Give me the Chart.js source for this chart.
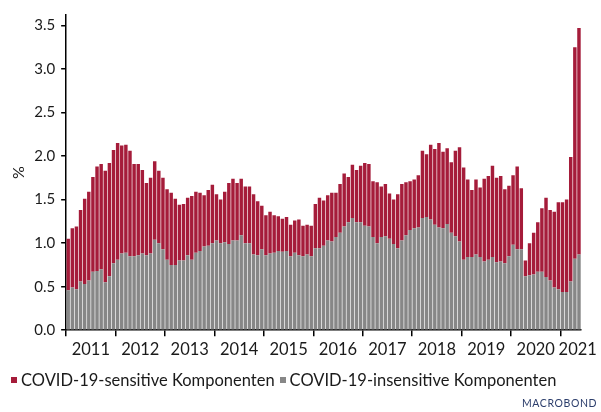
<!DOCTYPE html>
<html>
<head>
<meta charset="utf-8">
<script src="https://cdn.jsdelivr.net/npm/chart.js@4"></script>
<style>
  html, body { margin: 0; padding: 0; background: #fff; }
  #wrap { position: relative; width: 601px; height: 412px; }
  #legend { position: absolute; left: 11px; top: 370px; font: 16.5px Lato; color: #1a1a1a; display: flex; align-items: center; white-space: nowrap; }
  #legend span.box { display: inline-block; width: 6px; height: 6px; margin-right: 4px; }
  #legend span.item { display: inline-flex; align-items: center; margin-right: 5px; }
  #logo { position: absolute; left: 522px; top: 397px; font: 10.5px Lato; color: #2b3d6b; letter-spacing: 0.6px; white-space: nowrap; }
</style>
</head>
<body>
<div id="wrap">
  <canvas id="chart"></canvas>
  <div id="legend"></div>
  <div id="logo">MACROBOND</div>
</div>
<script>
const years = ["2011", "2012", "2013", "2014", "2015", "2016", "2017", "2018", "2019", "2020", "2021"];
const months = ["01", "02", "03", "04", "05", "06", "07", "08", "09", "10", "11", "12"];
// contribution in %-points, monthly Jan 2011 - May 2021
const insensitive = [
  0.46, 0.49, 0.47, 0.56, 0.53, 0.57, 0.67, 0.68, 0.70, 0.55, 0.62, 0.77,
  0.81, 0.88, 0.89, 0.85, 0.85, 0.86, 0.88, 0.86, 0.88, 1.04, 1.00, 0.93,
  0.81, 0.75, 0.75, 0.80, 0.80, 0.86, 0.81, 0.89, 0.91, 0.96, 0.97, 1.00,
  1.03, 1.00, 1.01, 0.99, 1.03, 1.03, 1.09, 1.00, 1.00, 0.87, 0.86, 0.93,
  0.86, 0.88, 0.89, 0.91, 0.90, 0.91, 0.85, 0.89, 0.86, 0.85, 0.87, 0.85,
  0.94, 0.94, 0.97, 1.03, 1.02, 1.07, 1.12, 1.19, 1.24, 1.29, 1.24, 1.24,
  1.20, 1.19, 1.07, 1.00, 1.07, 1.08, 1.05, 0.99, 0.94, 1.03, 1.09, 1.15,
  1.17, 1.18, 1.29, 1.30, 1.27, 1.21, 1.18, 1.17, 1.22, 1.12, 1.08, 1.02,
  0.81, 0.84, 0.84, 0.87, 0.84, 0.79, 0.81, 0.84, 0.78, 0.79, 0.77, 0.85,
  0.98, 0.93, 0.93, 0.62, 0.63, 0.64, 0.67, 0.67, 0.61, 0.57, 0.49, 0.47,
  0.44, 0.44, 0.56, 0.82, 0.87
];
const sensitive = [
  0.59, 0.68, 0.72, 0.82, 0.98, 1.02, 1.09, 1.20, 1.21, 1.28, 1.30, 1.30,
  1.34, 1.24, 1.24, 1.21, 1.06, 1.05, 0.96, 0.83, 0.87, 0.90, 0.83, 0.82,
  0.81, 0.83, 0.76, 0.64, 0.65, 0.66, 0.73, 0.70, 0.67, 0.59, 0.64, 0.67,
  0.53, 0.50, 0.58, 0.70, 0.71, 0.66, 0.65, 0.65, 0.65, 0.69, 0.62, 0.50,
  0.46, 0.48, 0.43, 0.40, 0.38, 0.39, 0.36, 0.37, 0.41, 0.35, 0.34, 0.35,
  0.51, 0.58, 0.52, 0.52, 0.56, 0.51, 0.56, 0.61, 0.52, 0.61, 0.60, 0.65,
  0.72, 0.72, 0.64, 0.70, 0.58, 0.60, 0.52, 0.51, 0.62, 0.65, 0.61, 0.56,
  0.56, 0.60, 0.77, 0.72, 0.86, 0.87, 0.97, 0.88, 0.87, 0.81, 0.98, 1.08,
  1.06, 0.89, 0.77, 0.86, 0.80, 0.95, 0.96, 1.05, 0.97, 0.98, 0.85, 0.81,
  0.80, 0.95, 0.70, 0.18, 0.37, 0.48, 0.57, 0.73, 0.91, 0.81, 0.87, 1.00,
  1.03, 1.06, 1.43, 2.43, 2.60
];
const yTicks = [0, 0.5, 1, 1.5, 2, 2.5, 3, 3.5];

const labels = [];
years.forEach(y => months.forEach(m => labels.push(y + "-" + m)));
labels.length = insensitive.length;

// year boundaries get a tick mark, year names sit in the middle of each year
const xTicks = [];
const xTickText = [];
years.forEach((y, i) => {
  xTicks.push({ value: i * 12, mark: true });
  xTickText.push("");
  let mid = i * 12 + 6;
  if (mid > labels.length) mid = labels.length - 0.8;
  xTicks.push({ value: mid, mark: false });
  xTickText.push(y);
});

const textColor = "#1a1a1a";
const yFont = { family: "Lato", size: 15 };
const xFont = { family: "Lato", size: 16.5 };

const chart = new Chart(document.getElementById("chart"), {
  type: "bar",
  data: {
    labels: labels,
    datasets: [
      {
        label: "COVID-19-insensitive Komponenten",
        data: insensitive,
        backgroundColor: "#878787",
        barPercentage: 0.84,
        categoryPercentage: 1.0,
      },
      {
        label: "COVID-19-sensitive Komponenten",
        data: sensitive,
        backgroundColor: "#a51c3a",
        barPercentage: 0.84,
        categoryPercentage: 1.0,
      },
    ],
  },
  options: {
    responsive: true,
    maintainAspectRatio: false,
    animation: false,
    layout: { padding: { left: 5, right: 18, top: 14, bottom: 48 } },
    scales: {
      x: { stacked: true, display: false, offset: true },
      x2: {
        type: "linear",
        position: "bottom",
        min: 0,
        max: labels.length,
        offset: false, // bar charts default every x scale to offset:true
        afterBuildTicks: s => { s.ticks = xTicks.map(t => ({ value: t.value, mark: t.mark })); },
        ticks: {
          autoSkip: false,
          maxRotation: 0,
          padding: 4,
          font: xFont,
          color: textColor,
          callback: (v, i) => xTickText[i],
        },
        grid: {
          offset: false,
          drawOnChartArea: false,
          tickLength: 6,
          lineWidth: 1.5,
          color: ctx => (ctx.tick && ctx.tick.mark ? "#000" : "rgba(0,0,0,0)"),
        },
        border: { color: "#000", width: 1.5 },
      },
      y: {
        stacked: true,
        min: 0,
        max: 3.62,
        afterBuildTicks: s => { s.ticks = yTicks.map(v => ({ value: v })); },
        ticks: { font: yFont, color: textColor, padding: 6, callback: v => v.toFixed(1) },
        grid: { drawOnChartArea: false, tickLength: 5, lineWidth: 1.5, color: "#000" },
        border: { color: "#000", width: 1.5 },
        title: { display: true, text: "%", font: { family: "Lato", size: 16 }, color: textColor, padding: { top: 4, bottom: 0 } },
      },
    },
    plugins: {
      tooltip: false,
      legend: { display: false },
    },
  },
});

// legend in the order of the reference: sensitive first
const legendEl = document.getElementById("legend");
chart.data.datasets.slice().reverse().forEach(ds => {
  const item = document.createElement("span");
  item.className = "item";
  const box = document.createElement("span");
  box.className = "box";
  box.style.background = ds.backgroundColor;
  item.appendChild(box);
  item.appendChild(document.createTextNode(ds.label));
  legendEl.appendChild(item);
});
</script>
</body>
</html>
